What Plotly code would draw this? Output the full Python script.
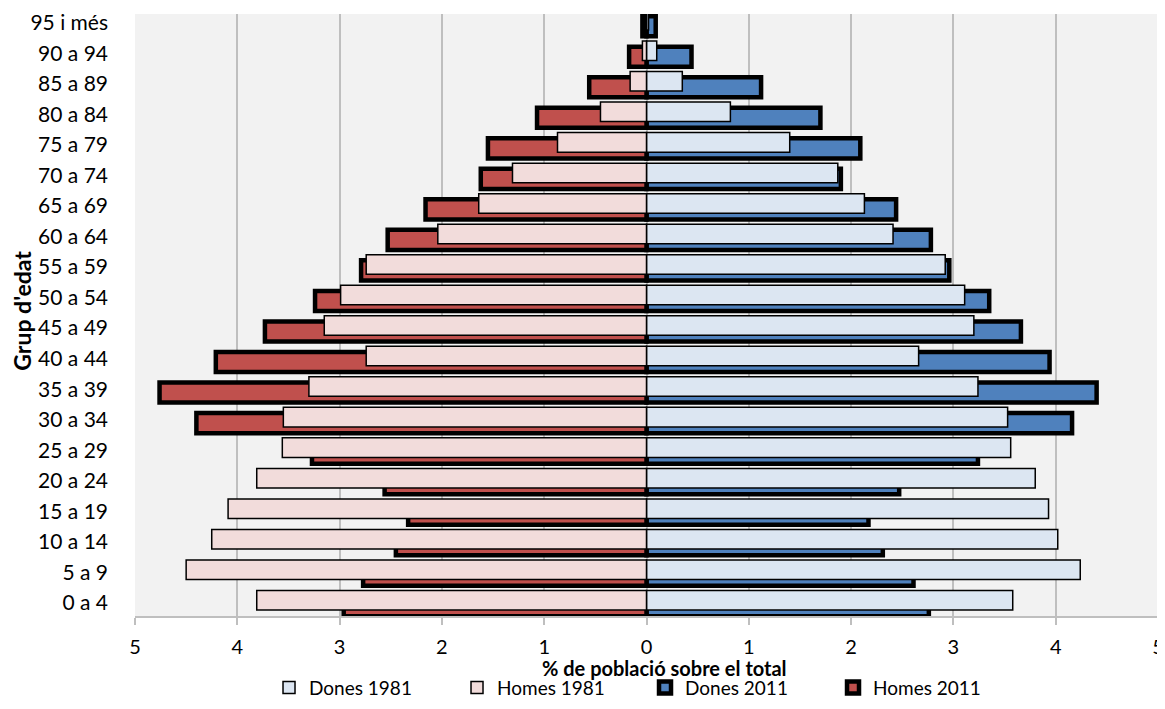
import plotly.graph_objects as go

# Age groups, bottom (youngest) to top (oldest)
grups = ["0 a 4", "5 a 9", "10 a 14", "15 a 19", "20 a 24", "25 a 29", "30 a 34",
         "35 a 39", "40 a 44", "45 a 49", "50 a 54", "55 a 59", "60 a 64", "65 a 69",
         "70 a 74", "75 a 79", "80 a 84", "85 a 89", "90 a 94", "95 i més"]

homes_1981 = [3.81, 4.50, 4.25, 4.09, 3.81, 3.56, 3.55, 3.30, 2.74, 3.15,
              2.99, 2.74, 2.04, 1.64, 1.31, 0.87, 0.45, 0.16, 0.04, 0.01]
homes_2011 = [2.96, 2.77, 2.45, 2.33, 2.56, 3.27, 4.40, 4.76, 4.21, 3.73,
              3.24, 2.79, 2.53, 2.16, 1.62, 1.55, 1.07, 0.56, 0.17, 0.04]
dones_1981 = [3.58, 4.24, 4.02, 3.93, 3.80, 3.56, 3.53, 3.24, 2.66, 3.20,
              3.11, 2.92, 2.41, 2.13, 1.87, 1.40, 0.82, 0.35, 0.10, 0.02]
dones_2011 = [2.76, 2.61, 2.31, 2.17, 2.47, 3.24, 4.16, 4.40, 3.94, 3.66,
              3.35, 2.96, 2.78, 2.44, 1.90, 2.09, 1.70, 1.12, 0.44, 0.09]

tick_vals = [-5, -4, -3, -2, -1, 0, 1, 2, 3, 4, 5]
tick_text = ["5", "4", "3", "2", "1", "0", "1", "2", "3", "4", "5"]

FONT = "Lato"

fig = go.Figure()

# 2011 bars (behind), thick black outline
fig.add_trace(go.Bar(
    y=grups, x=dones_2011, orientation="h", name="Dones 2011",
    marker=dict(color="#4F81BD", line=dict(color="black", width=4.5)),
    width=0.66, offset=-0.44, legendrank=3))
fig.add_trace(go.Bar(
    y=grups, x=[-v for v in homes_2011], orientation="h", name="Homes 2011",
    marker=dict(color="#C0504D", line=dict(color="black", width=4.5)),
    width=0.66, offset=-0.44, legendrank=4))

# 1981 bars (front)
fig.add_trace(go.Bar(
    y=grups, x=dones_1981, orientation="h", name="Dones 1981",
    marker=dict(color="#DCE6F2", line=dict(color="black", width=1.5)),
    width=0.64, offset=-0.235, legendrank=1))
fig.add_trace(go.Bar(
    y=grups, x=[-v for v in homes_1981], orientation="h", name="Homes 1981",
    marker=dict(color="#F2DCDB", line=dict(color="black", width=1.5)),
    width=0.64, offset=-0.235, legendrank=2))

fig.update_layout(
    width=1157, height=693,
    margin=dict(l=127, r=7, t=6, b=85, autoexpand=False),
    barmode="overlay",
    paper_bgcolor="white",
    plot_bgcolor="#F2F2F2",
    font=dict(family=FONT, size=18, color="black"),
    showlegend=True,
    legend=dict(orientation="h", x=0.131, xanchor="left", y=-0.119, yanchor="middle",
                font=dict(family=FONT, size=19, color="black"),
                traceorder="normal", entrywidth=143, itemwidth=30,
                bgcolor="rgba(0,0,0,0)"),
    xaxis=dict(range=[-5, 5], tickvals=tick_vals, ticktext=tick_text,
               showgrid=True, gridcolor="#BFBFBF", gridwidth=1.5,
               zeroline=False, showline=True, linecolor="#BFBFBF", linewidth=1.5,
               ticks="outside", ticklen=7, tickcolor="#BFBFBF", tickwidth=1.5,
               ticklabelstandoff=5, automargin=False,
               tickfont=dict(family=FONT, size=20, color="black"), fixedrange=True),
    yaxis=dict(type="category", categoryorder="array", categoryarray=grups,
               range=[-0.43, 19.29], showgrid=False, zeroline=False, showline=False,
               ticks="", ticklabelstandoff=26, automargin=False,
               tickfont=dict(family=FONT, size=21, color="black")),
    annotations=[
        dict(text="<b>% de població sobre el total</b>", xref="paper", yref="paper",
             x=0.518, y=-0.087, xanchor="center", yanchor="middle", showarrow=False,
             font=dict(family=FONT, size=20, color="black")),
        dict(text="<b>Grup d'edat</b>", xref="paper", yref="paper",
             x=-0.110, y=0.508, xanchor="center", yanchor="middle", showarrow=False,
             textangle=-90, font=dict(family=FONT, size=23, color="black")),
    ],
)

fig.write_html("out.html")
